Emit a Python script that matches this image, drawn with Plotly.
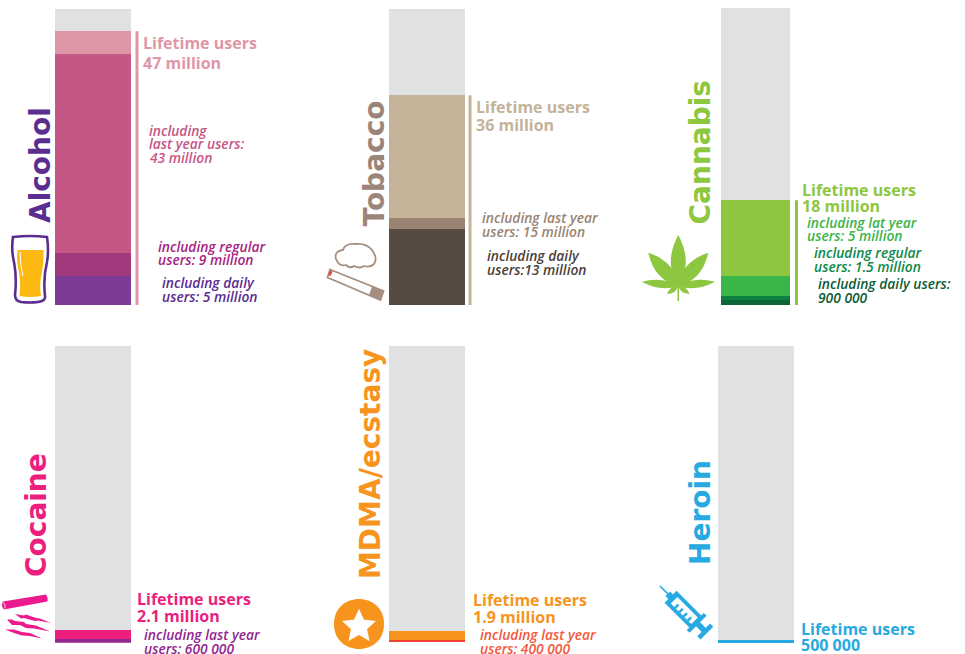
import math
import re
import plotly.graph_objects as go

W, H = 965, 654
GREY = "#e0e1e3"
FONT = "Open Sans"
TITLE_FONT = "DejaVu Sans"

# Population in millions
scale_total = [50.8, 50.8, 51.0, 50.8, 50.8, 50.8]
drugs = ["Alcohol", "Tobacco", "Cannabis", "Cocaine", "MDMA/ecstasy", "Heroin"]
alcohol_values = [47, 43, 9, 5]
tobacco_values = [36, 15, 13]
cannabis_values = [18, 5, 1.5, 0.9]
cocaine_values = [2.1, 0.6]
mdma_values = [1.9, 0.4]
heroin_values = [0.5]

alcohol_colors = ["#df96a7", "#c55686", "#a03a7d", "#7e3b96"]
tobacco_colors = ["#c4b399", "#9a8373", "#574a40"]
cannabis_colors = ["#8dc63f", "#39b54a", "#0c8040", "#0d6536"]
cocaine_colors = ["#ec1f7e", "#92278f"]
mdma_colors = ["#f7941d", "#ef4136"]
heroin_colors = ["#27aae1"]

panel_values = [alcohol_values, tobacco_values, cannabis_values,
                cocaine_values, mdma_values, heroin_values]
panel_colors = [alcohol_colors, tobacco_colors, cannabis_colors,
                cocaine_colors, mdma_colors, heroin_colors]
# left, right, top, bottom of each bar, in page pixels
panel_boxes = [(55, 131, 9, 305), (389, 465, 9, 305), (721, 790, 8, 305),
               (55, 131, 346, 642.5), (389, 465, 346, 642), (718, 794, 346, 643)]
# position of the bracket rule beside the bar, in bar widths
rule_offsets = [1.079, 1.066, 1.094, None, None, None]
X_EXTENT = 1.12

fig = go.Figure()
layout_axes = {}
for i, (values, colors, box) in enumerate(zip(panel_values, panel_colors, panel_boxes)):
    n = i + 1
    left, right, top, bottom = box
    xa, ya = f"x{n}", f"y{n}"
    plot_right = left + (right - left) * X_EXTENT
    layout_axes[f"xaxis{n}"] = dict(domain=[left / W, plot_right / W], range=[0, X_EXTENT],
                                    visible=False, fixedrange=True, anchor=ya)
    layout_axes[f"yaxis{n}"] = dict(domain=[1 - bottom / H, 1 - top / H],
                                    range=[0, scale_total[i]], visible=False,
                                    fixedrange=True, anchor=xa)
    fig.add_trace(go.Bar(x=[0.5], y=[scale_total[i]], width=[1], marker=dict(color=GREY, line_width=0),
                         xaxis=xa, yaxis=ya, showlegend=False, hoverinfo="skip"))
    for v, c in zip(values, colors):
        fig.add_trace(go.Bar(x=[0.5], y=[v], width=[1], marker=dict(color=c, line_width=0),
                             xaxis=xa, yaxis=ya, showlegend=False))
    if rule_offsets[i] is not None:
        fig.add_trace(go.Scatter(x=[rule_offsets[i]] * 2, y=[0, values[0]], mode="lines",
                                 line=dict(color=colors[0], width=3),
                                 xaxis=xa, yaxis=ya, showlegend=False, hoverinfo="skip"))

annotations = []


def label(x, y, text, color, size=13, italic=True, weight=600):
    annotations.append(dict(
        xref="paper", yref="paper", x=(x - 1) / W, y=1 - (y - 0.5) / H, text=text, showarrow=False,
        xanchor="left", yanchor="middle", align="left", borderpad=0,
        font=dict(family=FONT, size=size, color=color, weight=weight,
                  style="italic" if italic else "normal")))


def title(x, y, text, color, size=28):
    annotations.append(dict(
        xref="paper", yref="paper", x=x / W, y=1 - y / H, text=text, showarrow=False,
        xanchor="center", yanchor="middle", textangle=-90, borderpad=0,
        font=dict(family=TITLE_FONT, size=size, color=color, weight=700)))


HEAD = 16
SUB = 13.8

title(41, 165, "Alcohol", "#5b2d91")
label(143, 43, "Lifetime users", "#df96a7", HEAD, False, 700)
label(143, 63, "47 million", "#df96a7", HEAD, False, 700)
label(149, 131, "including", "#c55686", SUB)
label(149, 144, "last year users:", "#c55686", SUB)
label(149, 158, "43 million", "#c55686", SUB)
label(158, 247, "including regular", "#a8247f", SUB)
label(158, 260, "users: 9 million", "#a8247f", SUB)
label(162, 283, "including daily", "#5b2d91", SUB)
label(162, 297, "users: 5 million", "#5b2d91", SUB)

title(374.5, 164, "Tobacco", "#9b8579")
label(476, 107.5, "Lifetime users", "#c4b399", HEAD, False, 700)
label(476, 125, "36 million", "#c4b399", HEAD, False, 700)
label(482, 218, "including last year", "#9a8373", SUB)
label(482, 232, "users: 15 million", "#9a8373", SUB)
label(487, 256, "including daily", "#4a3f39", SUB)
label(487, 270, "users:13 million", "#4a3f39", SUB)

title(700.5, 152, "Cannabis", "#8dc63f")
label(802, 190, "Lifetime users", "#8dc63f", HEAD, False, 700)
label(802, 206, "18 million", "#8dc63f", HEAD, False, 700)
label(807, 223, "including lat year", "#39b54a", SUB)
label(807, 236, "users: 5 million", "#39b54a", SUB)
label(814, 253, "including regular", "#0e8a4a", SUB)
label(814, 267, "users: 1.5 million", "#0e8a4a", SUB)
label(818, 284, "including daily users:", "#0d5c36", SUB)
label(818, 298, "900 000", "#0d5c36", SUB)

title(36, 515, "Cocaine", "#ec1f7e")
label(137, 599, "Lifetime users", "#ec1f7e", HEAD, False, 700)
label(137, 616, "2.1 million", "#ec1f7e", HEAD, False, 700)
label(144, 635, "including last year", "#92278f", SUB)
label(144, 648.5, "users: 600 000", "#92278f", SUB)

title(370, 464, "MDMA/ecstasy", "#f7941d")
label(473, 600, "Lifetime users", "#f7941d", HEAD, False, 700)
label(473, 617, "1.9 million", "#f7941d", HEAD, False, 700)
label(480, 635, "including last year", "#f15a3c", SUB)
label(480, 648.5, "users: 400 000", "#f15a3c", SUB)

title(700, 513, "Heroin", "#27aae1")
label(801, 629, "Lifetime users", "#27aae1", HEAD, False, 700)
label(801, 645, "500 000", "#27aae1", HEAD, False, 700)

shapes = []


def to_paper(path):
    """Convert an absolute SVG path in page pixels to paper fractions."""
    out, is_x = [], True
    for tok in re.findall(r"[A-Za-z]|-?\d+\.?\d*", path):
        if tok.isalpha():
            out.append(tok)
        else:
            v = float(tok)
            out.append(f"{v / W:.5f}" if is_x else f"{1 - v / H:.5f}")
            is_x = not is_x
    return " ".join(out)


def icon(path, fill=None, stroke=None, width=0):
    shapes.append(dict(type="path", xref="paper", yref="paper", path=to_paper(path),
                       fillcolor=fill if fill else "rgba(0,0,0,0)",
                       line=dict(color=stroke if stroke else "rgba(0,0,0,0)", width=width)))


# Pint glass
icon("M 13 237 Q 30 235 47 237 Q 49 250 47 262 Q 43 278 45 296 Q 46 301 38 302 "
     "Q 30 303 21 302 Q 15 301 15 295 Q 17 278 14 262 Q 11 250 13 237 Z",
     "white", "#5b2d91", 2.6)
icon("M 17.5 250 L 43.5 250 Q 44 262 42 272 Q 39 285 41 296 Q 30 298 19.5 296 "
     "Q 21 285 19 272 Q 16 262 17.5 250 Z", "#fdb913")
icon("M 20 252 Q 20 265 23 276", None, "white", 1)

# Cigarette and smoke
icon("M 336 259 Q 334 251 343 250 Q 345 243 356 244 Q 366 243 372 250 Q 378 258 374 264 "
     "Q 370 268 364 266 Q 360 269 354 266 Q 350 269 346 265 Q 339 267 336 259 Z",
     "white", "#a58f80", 1.8)
icon("M 330 269.5 L 383.5 291 L 380.5 300 L 327.5 277.5 Z", "white", "#a58f80", 1.8)
icon("M 372 286.5 L 383.5 291 L 380.5 300 L 369 295 Z", "#a58f80")
icon("M 331.5 271 L 329.5 275.5", None, "#ef4136", 2.4)


def leaflet(bx, by, tx, ty, w):
    dx, dy = tx - bx, ty - by
    length = math.hypot(dx, dy)
    nx, ny = -dy / length, dx / length
    mx, my = bx + dx * 0.45, by + dy * 0.45
    return (f"M {bx} {by} Q {mx + nx * w:.2f} {my + ny * w:.2f} {tx} {ty} "
            f"Q {mx - nx * w:.2f} {my - ny * w:.2f} {bx} {by} Z")


# Cannabis leaf
LEAF = "#8dc63f"
for tip, wid in [((678.3, 235), 15), ((648.3, 252.7), 14), ((708.3, 252.7), 14),
                 ((641.7, 281.7), 8), ((715, 281.7), 8), ((667, 294), 5), ((689.5, 294), 5)]:
    icon(leaflet(678.3, 286, tip[0], tip[1], wid), LEAF)
icon("M 678.3 285 L 678.3 301", None, LEAF, 1.6)

# Rolled note and lines of powder
PINK = "#ec1a8c"
icon("M 3 601.5 L 46 594.5 Q 48.5 598 47.5 601.5 L 4 609.5 Q 0.5 605.5 3 601.5 Z", PINK)
icon("M 3.5 602.5 Q 6 605.5 5 608.5", None, "white", 0.8)
icon("M 15 614 L 24 615.5 L 26 614.5 L 36 618 L 40 618.5 L 51 623 L 38 620.5 L 35 621 "
     "L 24 618 L 21 618.5 Z", PINK)
icon("M 7 619.5 L 12 619.5 L 15 621 L 24 622 L 26 624 L 36 625.5 L 50 631.5 L 34 628.5 "
     "L 26 628 L 20 625 L 12 625 Z", PINK)
icon("M 5 629.5 L 14 629.5 L 22 632 L 30 633 L 42 638.5 L 30 636 L 22 635.5 L 14 633 Z", PINK)

# Pill
icon("M 334 624 C 334 590.7 384 590.7 384 624 C 384 657.3 334 657.3 334 624 Z", "#f7941d")
star_pts = []
for k in range(10):
    r = 16 if k % 2 == 0 else 7.6
    a = -math.pi / 2 + k * math.pi / 5
    star_pts.append(f"{359 + r * math.cos(a):.2f} {626.5 + r * math.sin(a):.2f}")
icon("M " + " L ".join(star_pts) + " Z", "white", "white", 1.5)

# Syringe, laid out along its own axis and tilted into place
SYR = "#27aae1"
ox, oy, ux, uy = 660, 586, 0.705, 0.709


def syr(*pairs):
    pts = [f"{ox + u * ux - v * uy:.2f} {oy + u * uy + v * ux:.2f}" for u, v in pairs]
    return "M " + " L ".join(pts) + " Z"


icon(syr((0, -0.8), (15, -0.8), (15, 0.8), (0, 0.8)), SYR)
icon(syr((11, -3.2), (17, -3.2), (17, 3.2), (11, 3.2)), SYR)
icon(syr((15, -8.5), (52, -8.5), (52, 8.5), (15, 8.5)), SYR)
icon(syr((20, -4.6), (49, -4.6), (49, 4.6), (20, 4.6)), "white")
for u in (25, 31, 37, 43):
    icon(syr((u, 4.7), (u + 2.4, 4.7), (u + 2.4, 0), (u, 0)), SYR)
icon(syr((50, -12), (54, -12), (54, 12), (50, 12)), SYR)
icon(syr((53, -2.8), (63, -2.8), (63, 2.8), (53, 2.8)), SYR)
icon(syr((62, -9), (66.5, -9), (66.5, 9), (62, 9)), SYR)

fig.update_layout(
    width=W, height=H, margin=dict(l=0, r=0, t=0, b=0, pad=0),
    paper_bgcolor="white", plot_bgcolor="white", barmode="overlay", bargap=0,
    showlegend=False, annotations=annotations, shapes=shapes, **layout_axes)
fig.write_html("out.html", config=dict(displayModeBar=False))
